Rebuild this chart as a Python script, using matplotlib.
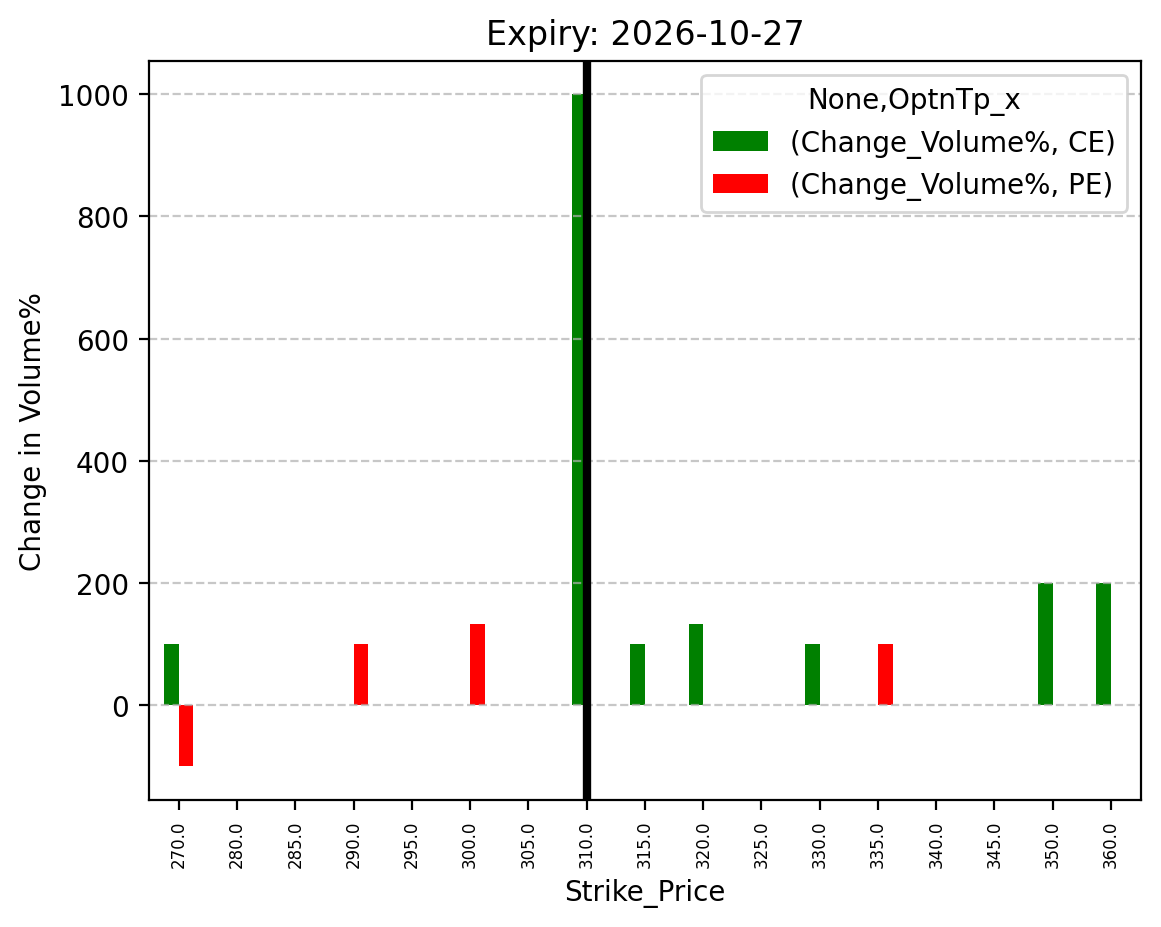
import pandas as pd
import numpy as np
import matplotlib
matplotlib.use('Agg')
import matplotlib.pyplot as plt

# strike prices and % change in volume (NaN = no bar)
strikes = [270.0, 280.0, 285.0, 290.0, 295.0, 300.0, 305.0, 310.0, 315.0,
           320.0, 325.0, 330.0, 335.0, 340.0, 345.0, 350.0, 360.0]
ce_change = [100, np.nan, np.nan, np.nan, np.nan, np.nan, np.nan, 1000, 100,
             133.3, np.nan, 100, np.nan, np.nan, np.nan, 200, 200]
pe_change = [-100, np.nan, np.nan, 100, np.nan, 133.3, np.nan, np.nan, np.nan,
             np.nan, np.nan, np.nan, 100, np.nan, np.nan, np.nan, np.nan]
spot_strike = 310.0
expiry = '2026-10-27'

cols = pd.MultiIndex.from_tuples([('Change_Volume%', 'CE'), ('Change_Volume%', 'PE')],
                                 names=[None, 'OptnTp_x'])
df = pd.DataFrame(np.column_stack([ce_change, pe_change]),
                  index=pd.Index(strikes, name='Strike_Price'), columns=cols)

fig, ax = plt.subplots(figsize=(5.805, 4.64), dpi=200)
fig.subplots_adjust(left=0.128, right=0.983, top=0.9335, bottom=0.137)

df.plot(kind='bar', ax=ax, color=['green', 'red'])

# mark the spot strike
ax.axvline(strikes.index(spot_strike), color='black', linewidth=3)

ax.set_title(f'Expiry: {expiry}')
ax.set_xlabel('Strike_Price')
ax.set_ylabel('Change in Volume%')
ax.tick_params(axis='x', labelsize=6, rotation=90)
ax.grid(axis='y', linestyle='--', alpha=0.7)
ax.set_xlim(-0.52, len(strikes) - 0.48)
ax.legend(title='None,OptnTp_x', loc='upper right')

plt.savefig('out.png')
